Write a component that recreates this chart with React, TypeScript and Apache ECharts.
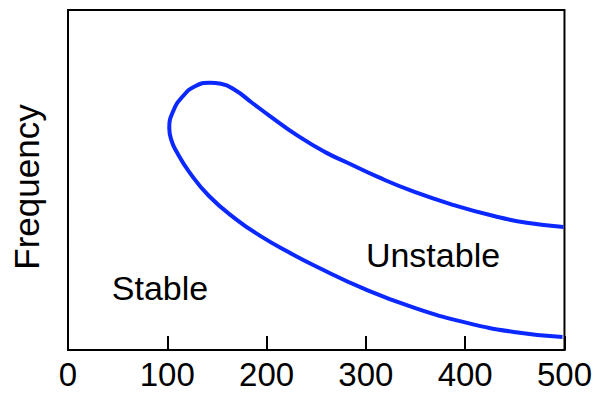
import React, { useEffect, useRef } from "react";
import * as echarts from "echarts";

// Stability boundary traced in data units (x: 0–500, y: relative frequency 0–100)
const boundaryX = [499, 462, 429, 389, 349, 312, 282, 259, 232, 202, 185, 169, 154, 143, 128, 115, 106, 102, 104, 109, 122, 142, 169, 194, 222, 249, 299, 349, 399, 449, 498];
const boundaryY = [36.2, 37.4, 39.4, 42.6, 46.5, 50.9, 55.0, 58.2, 62.9, 69.1, 72.8, 76.3, 78.3, 78.6, 77.6, 74.4, 70.3, 65.3, 61.8, 58.5, 52.4, 45.3, 38.5, 33.5, 28.8, 24.7, 17.9, 12.4, 8.2, 5.3, 3.8];
const xTicks = [0, 100, 200, 300, 400, 500];
const yAxisTitle = "Frequency";
const regionLabels = ["Stable", "Unstable"];

const FONT = "'Liberation Sans', Arial, Helvetica, sans-serif";

export default function App() {
  const ref = useRef<HTMLDivElement>(null);
  useEffect(() => {
    if (!ref.current) return;
    const chart = echarts.init(ref.current, undefined, { renderer: "svg" });
    const data = boundaryX.map((x, i) => [x, boundaryY[i]]);
    chart.setOption({
      animation: false,
      backgroundColor: "#ffffff",
      grid: {
        left: 68,
        right: 28,
        top: 10,
        bottom: 44,
        show: true,
        borderColor: "#000",
        borderWidth: 2,
        backgroundColor: "transparent",
      },
      xAxis: {
        type: "value",
        min: xTicks[0],
        max: xTicks[xTicks.length - 1],
        interval: 100,
        axisLine: { show: true, lineStyle: { color: "#000", width: 2 } },
        axisTick: { show: true, inside: true, length: 14, lineStyle: { color: "#000", width: 2 } },
        splitLine: { show: false },
        axisLabel: { color: "#000", fontSize: 33, fontFamily: FONT, margin: 8 },
      },
      yAxis: {
        type: "value",
        min: 0,
        max: 100,
        axisLine: { show: true, lineStyle: { color: "#000", width: 2 } },
        axisTick: { show: false },
        axisLabel: { show: false },
        splitLine: { show: false },
      },
      series: [
        {
          type: "line",
          data,
          smooth: 0.5,
          showSymbol: false,
          symbol: "none",
          lineStyle: { color: "#0a28ff", width: 4 },
        },
      ],
      graphic: [
        {
          type: "text",
          x: 26,
          y: 187,
          rotation: Math.PI / 2,
          style: {
            text: yAxisTitle,
            fontSize: 35,
            fontFamily: FONT,
            fill: "#000",
            align: "center",
            verticalAlign: "middle",
          },
        },
        {
          type: "text",
          x: 160,
          y: 288,
          style: {
            text: regionLabels[0],
            fontSize: 34,
            fontFamily: FONT,
            fill: "#000",
            align: "center",
            verticalAlign: "middle",
          },
        },
        {
          type: "text",
          x: 433,
          y: 255,
          style: {
            text: regionLabels[1],
            fontSize: 34,
            fontFamily: FONT,
            fill: "#000",
            align: "center",
            verticalAlign: "middle",
          },
        },
      ],
    });
    return () => chart.dispose();
  }, []);
  return <div ref={ref} style={{ width: 595, height: 394, position: "absolute", left: 0, top: 0 }} />;
}
